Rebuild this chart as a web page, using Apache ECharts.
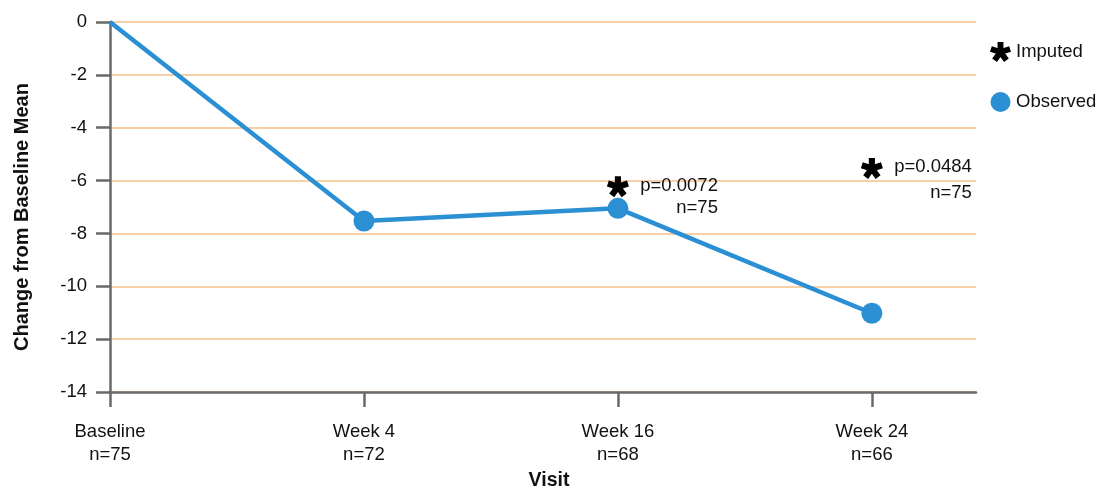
<!DOCTYPE html>
<html>
<head>
<meta charset="utf-8">
<title>Change from Baseline Mean by Visit</title>
<script src="https://cdn.jsdelivr.net/npm/echarts@6/dist/echarts.min.js"></script>
<style>
  html, body { margin: 0; padding: 0; background: #ffffff; }
  #chart { width: 1103px; height: 487px; }
</style>
</head>
<body>
<div id="chart"></div>
<script>
// Visits on the x axis, with the number of patients at each visit
const visits = ['Baseline', 'Week 4', 'Week 16', 'Week 24'];
const visitN = ['n=75', 'n=72', 'n=68', 'n=66'];

// Observed change from baseline mean at each visit
const observed = [0, -7.53, -7.05, -11.02];

// Imputed values (Week 16 and Week 24) with their p-values and n
const imputedVisitIndex = [2, 3];
const imputed = [-6.23, -5.54];
const imputedP = ['p=0.0072', 'p=0.0484'];
const imputedN = ['n=75', 'n=75'];

// Y axis ticks
const yTicks = [0, -2, -4, -6, -8, -10, -12, -14];

const FONT = '"Liberation Sans", Arial, Helvetica, sans-serif';
const TXT = '#111111';
const BLUE = '#2b8fd3';
const AXIS = '#6a6a6a';
const GRIDLINE = '#f7bf8a';
const FS = 18.5;

// Five-armed asterisk drawn as a path of rotated bars
function asteriskPath(arms, halfWidth) {
  let d = '';
  for (let i = 0; i < arms; i++) {
    const a = (i * 2 * Math.PI) / arms;
    const dx = Math.sin(a), dy = -Math.cos(a);
    const px = Math.cos(a), py = Math.sin(a);
    const pts = [
      [-px * halfWidth, -py * halfWidth],
      [px * halfWidth, py * halfWidth],
      [px * halfWidth + dx, py * halfWidth + dy],
      [-px * halfWidth + dx, -py * halfWidth + dy]
    ];
    d += 'M' + pts.map(p => (p[0] * 50 + 50).toFixed(2) + ' ' + (p[1] * 50 + 50).toFixed(2)).join(' L') + ' Z ';
  }
  return 'path://' + d.trim();
}
const STAR = asteriskPath(5, 0.29);

const lineData = observed.map((v, i) =>
  i === 0 ? { value: [i, v], symbol: 'none' } : { value: [i, v] }
);

// Per-point placement of the p-value / n annotation blocks
const labelOffsets = [[111, -1], [111, -4]];
const labelLineHeights = [22, 26];
const starData = imputed.map((v, k) => ({
  value: [imputedVisitIndex[k], v],
  label: {
    show: true,
    formatter: '{t|' + imputedP[k] + '}\n{t|' + imputedN[k] + '}',
    position: labelOffsets[k],
    align: 'right',
    verticalAlign: 'top',
    rich: {
      t: {
        fontSize: FS,
        lineHeight: labelLineHeights[k],
        fontFamily: FONT,
        color: TXT,
        align: 'right'
      }
    }
  }
}));

const chart = echarts.init(document.getElementById('chart'), null, { renderer: 'canvas' });

chart.setOption({
  animation: false,
  backgroundColor: '#ffffff',
  textStyle: { fontFamily: FONT },
  grid: { left: 110, right: 127, top: 22, bottom: 95, containLabel: false, outerBoundsMode: 'none' },
  legend: {
    orient: 'vertical',
    left: 985,
    top: 37,
    itemWidth: 21,
    itemHeight: 20,
    itemGap: 30,
    textStyle: { fontSize: FS, color: TXT, fontFamily: FONT },
    data: [
      { name: 'Imputed', icon: STAR, itemStyle: { color: '#000000' } },
      { name: 'Observed', icon: 'circle' }
    ]
  },
  xAxis: {
    type: 'value',
    min: 0,
    max: 3.41,
    interval: 1,
    name: 'Visit',
    nameLocation: 'middle',
    nameGap: 77,
    nameTextStyle: { fontSize: 19.5, fontWeight: 'bold', color: TXT, fontFamily: FONT, padding: [0, 0, 0, 12] },
    splitLine: { show: false },
    axisLine: { show: true, onZero: false, lineStyle: { color: AXIS, width: 2.5 } },
    axisTick: {
      show: true,
      length: 15,
      lineStyle: { color: AXIS, width: 2.5 },
      customValues: visits.map((_, i) => i)
    },
    axisLabel: {
      customValues: visits.map((_, i) => i),
      margin: 28,
      fontSize: FS,
      lineHeight: 23,
      color: TXT,
      fontFamily: FONT,
      formatter: v => {
        const i = Math.round(v);
        return visits[i] + '\n' + visitN[i];
      }
    }
  },
  yAxis: {
    type: 'value',
    min: -14,
    max: 0,
    interval: 2,
    name: 'Change from Baseline Mean',
    nameLocation: 'middle',
    nameGap: 78,
    nameTextStyle: { fontSize: 20, fontWeight: 'bold', color: TXT, fontFamily: FONT, padding: [0, 20, 0, 0] },
    axisLine: { show: true, onZero: false, lineStyle: { color: AXIS, width: 2.5 } },
    axisTick: { show: true, length: 14, lineStyle: { color: AXIS, width: 2.5 } },
    axisLabel: {
      margin: 23,
      fontSize: FS,
      color: TXT,
      fontFamily: FONT,
      formatter: v => (yTicks.indexOf(v) >= 0 ? String(v) : '')
    },
    splitLine: { show: true, lineStyle: { color: GRIDLINE, width: 1.5 } }
  },
  series: [
    {
      name: 'Observed',
      type: 'line',
      data: lineData,
      symbol: 'circle',
      symbolSize: 21,
      color: BLUE,
      lineStyle: { color: BLUE, width: 4.5 },
      itemStyle: { color: BLUE },
      z: 3
    },
    {
      name: 'Imputed',
      type: 'scatter',
      data: starData,
      symbol: STAR,
      symbolSize: [22, 21],
      color: '#000000',
      itemStyle: { color: '#000000', opacity: 1 },
      z: 4
    }
  ]
});
</script>
</body>
</html>
